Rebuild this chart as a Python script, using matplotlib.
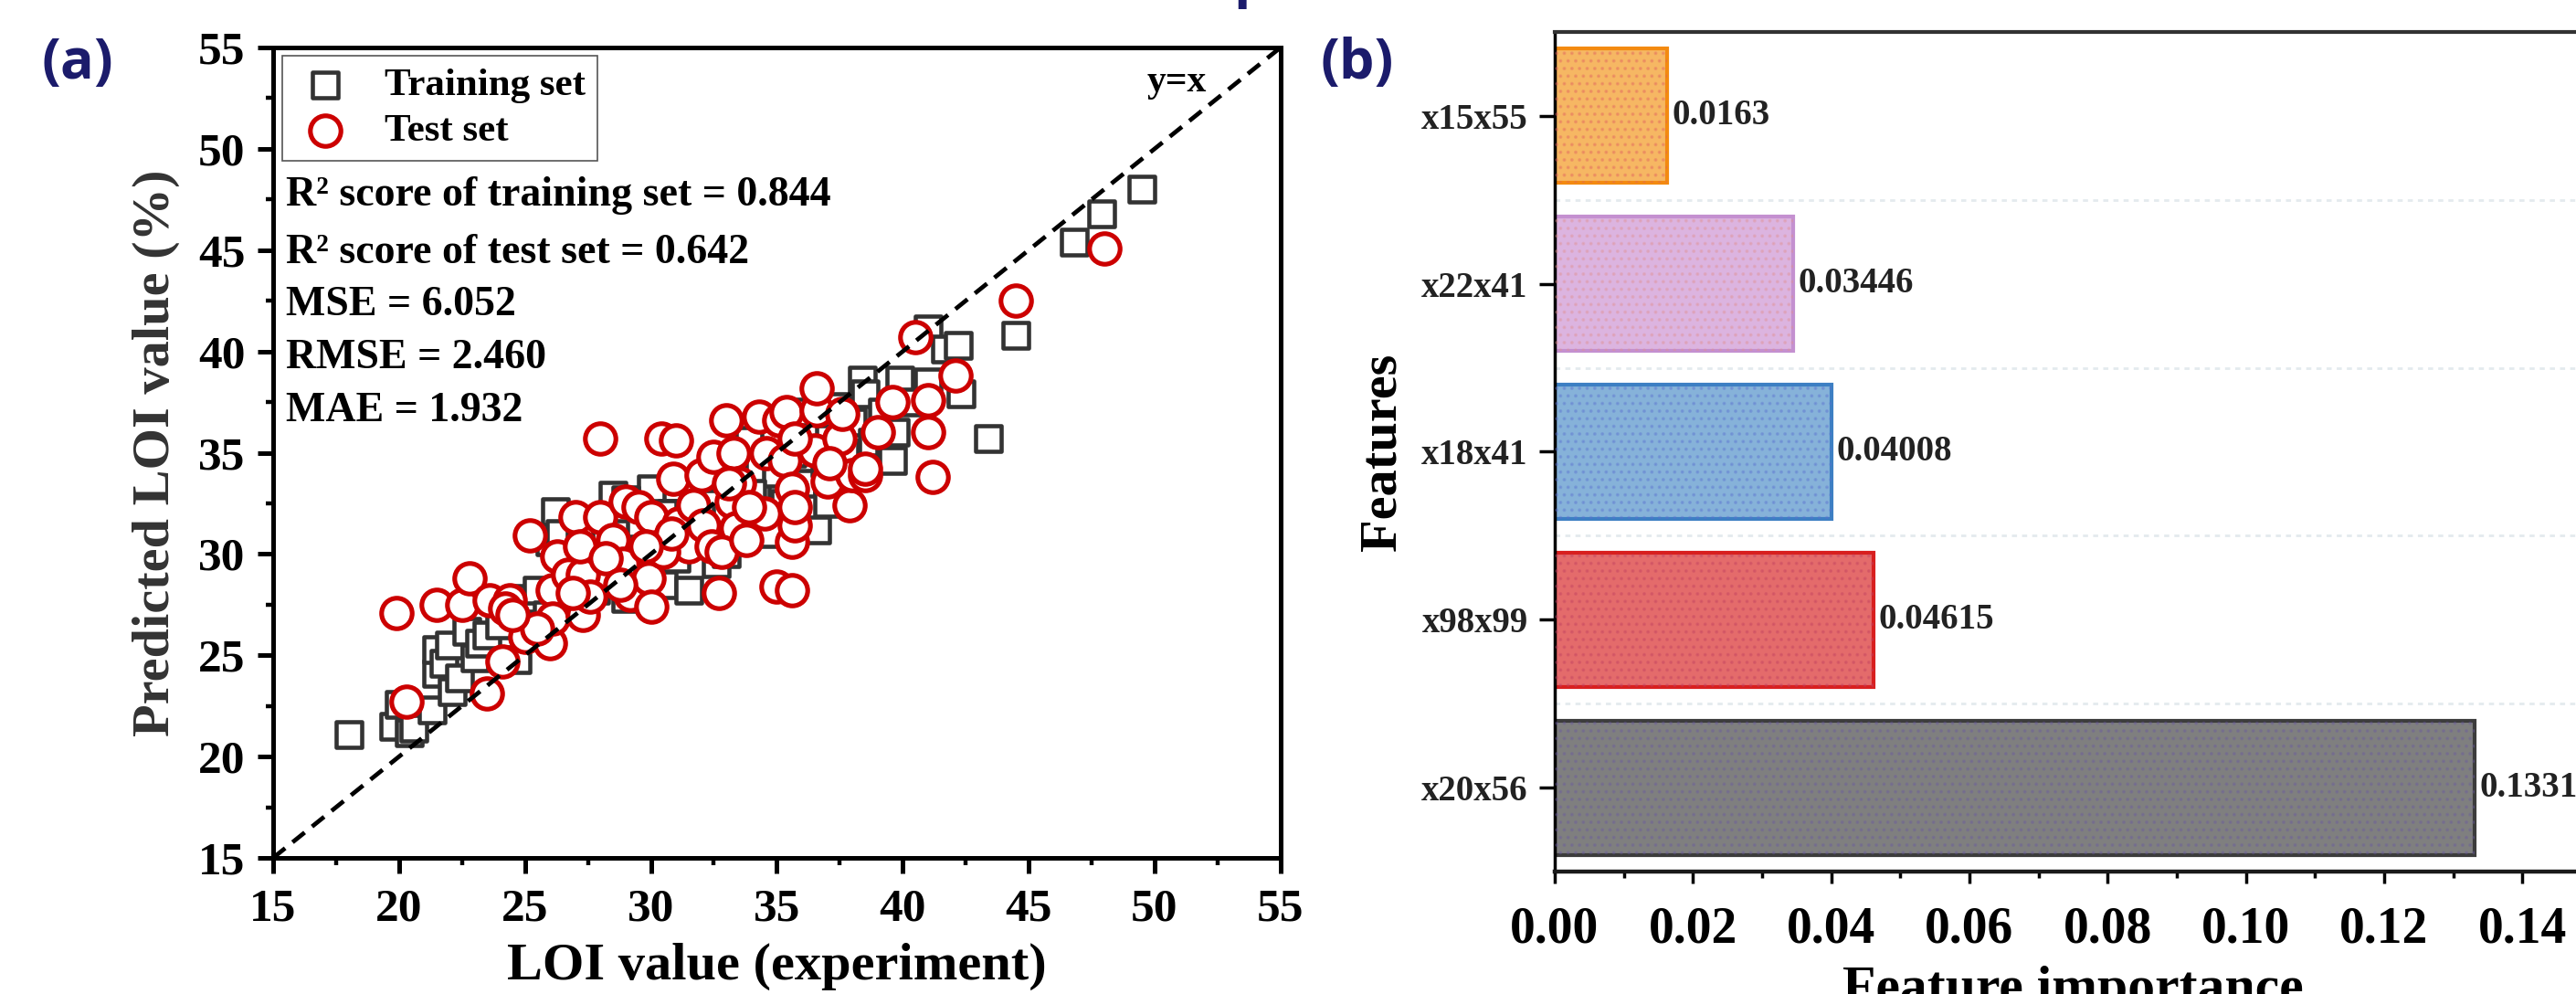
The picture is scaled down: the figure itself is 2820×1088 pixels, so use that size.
import matplotlib
matplotlib.use('Agg')
import matplotlib.pyplot as plt
from matplotlib.ticker import MultipleLocator, FormatStrFormatter

plt.rcParams['font.family'] = ['Liberation Serif', 'DejaVu Serif']
plt.rcParams['font.weight'] = 'bold'
plt.rcParams['hatch.linewidth'] = 1.6

# ---------------- data: panel (a) ----------------
train_x = [18.0, 19.8, 20.4, 20.0, 20.6, 21.3, 21.5, 21.5, 21.8, 22.1, 22.4, 22.0, 22.7, 23.0,
           23.2, 23.5, 24.0, 24.7, 24.5, 25.2, 25.0, 25.5, 25.9, 26.0, 26.2, 26.4, 26.6, 27.0,
           27.4, 27.8, 28.0, 28.5, 28.8, 29.0, 29.3, 29.6, 30.0, 30.2, 30.5, 30.8, 31.0, 31.3,
           31.5, 31.7, 32.0, 32.3, 32.6, 33.0, 33.3, 33.6, 33.9, 34.2, 34.5, 34.8, 35.0, 35.3,
           35.6, 36.0, 36.3, 36.6, 36.9, 37.1, 37.4, 37.7, 38.0, 38.4, 38.5, 38.8, 39.2, 39.5,
           39.6, 39.7, 39.9, 40.3, 41.0, 41.0, 41.7, 42.2, 42.3, 43.4, 44.5, 46.8, 47.9, 49.5,
           27.2, 29.0, 30.5, 32.5, 34.0, 36.0, 37.0, 33.0, 31.0, 28.3]
train_y = [21.1, 21.5, 21.2, 22.6, 21.4, 22.3, 24.1, 25.3, 24.6, 23.2, 23.9, 25.5, 26.2, 24.9,
           25.6, 26.0, 26.5, 24.8, 27.5, 26.0, 27.8, 28.2, 27.0, 30.6, 32.1, 31.0, 28.5, 27.5,
           29.5, 28.2, 30.5, 32.9, 31.0, 27.8, 29.6, 31.5, 33.2, 30.0, 28.5, 32.0, 29.8, 31.2,
           28.2, 33.5, 30.8, 32.5, 29.5, 31.8, 34.0, 31.0, 35.6, 32.8, 31.5, 31.0, 34.0, 32.5,
           35.0, 33.5, 36.0, 31.2, 34.5, 35.7, 37.3, 35.0, 36.5, 38.6, 37.9, 35.5, 37.0, 34.8,
           34.6, 36.0, 38.6, 37.5, 41.1, 38.5, 40.1, 40.3, 37.9, 35.7, 40.8, 45.4, 46.8, 48.0,
           31.5, 32.7, 32.0, 34.0, 33.0, 37.0, 32.5, 30.0, 31.0, 29.0]

test_x = [19.9, 20.3, 21.5, 22.5, 22.8, 23.5, 23.6, 24.1, 24.4, 24.2, 25.0, 25.2, 26.0, 26.1,
          26.1, 26.3, 26.7, 27.0, 27.3, 27.3, 27.6, 28.0, 28.0, 28.5, 28.9, 29.0, 29.2, 29.5,
          29.9, 30.0, 30.0, 30.4, 31.0, 30.9, 31.1, 31.5, 31.7, 32.0, 32.1, 32.4, 32.5, 32.7,
          33.0, 33.2, 33.3, 33.4, 33.5, 34.3, 34.5, 34.6, 35.0, 35.1, 35.3, 35.4, 35.6, 35.6,
          35.6, 35.7, 35.7, 36.5, 36.6, 36.6, 37.0, 37.5, 37.6, 37.9, 38.0, 38.5, 39.0, 39.6,
          40.5, 41.0, 41.0, 41.2, 42.1, 44.5, 48.0, 27.2, 28.2, 30.5, 30.8, 32.8, 33.8, 33.9,
          33.1, 35.7, 37.1, 38.5, 29.8, 28.8, 26.9, 25.5, 24.5]
test_y = [27.1, 22.7, 27.5, 27.5, 28.8, 23.1, 27.7, 24.7, 27.7, 27.3, 25.9, 30.9, 25.6, 28.2,
          26.8, 29.9, 29.0, 31.8, 29.0, 27.0, 27.9, 35.7, 31.8, 30.7, 29.5, 32.6, 28.0, 32.3,
          28.8, 27.4, 31.8, 35.7, 35.6, 33.7, 31.5, 30.4, 32.4, 33.9, 31.4, 30.4, 34.8, 28.1,
          36.6, 32.6, 35.0, 31.3, 33.5, 36.8, 32.0, 35.0, 28.4, 36.6, 34.6, 37.0, 28.2, 33.2,
          30.6, 31.4, 32.3, 35.1, 37.1, 38.2, 33.6, 35.7, 36.9, 32.4, 33.9, 33.9, 36.0, 37.5,
          40.7, 36.0, 37.6, 33.8, 38.8, 42.5, 45.1, 30.4, 29.8, 30.1, 31.0, 30.1, 30.7, 32.3,
          33.5, 35.7, 34.5, 34.2, 30.4, 28.5, 28.1, 26.3, 27.0]

axis_limits = [15, 55]
stats_lines = ["R\u00b2 score of training set = 0.844",
               "R\u00b2 score of test set = 0.642",
               "MSE = 6.052",
               "RMSE = 2.460",
               "MAE = 1.932"]

# ---------------- data: panel (b) ----------------
features = ["x20x56", "x98x99", "x18x41", "x22x41", "x15x55"]
importance = [0.1331, 0.04615, 0.04008, 0.03446, 0.0163]
importance_labels = ["0.1331", "0.04615", "0.04008", "0.03446", "0.0163"]
bar_face = ["#7f7f7f", "#e46b6b", "#86b2d9", "#dcb4e0", "#f6b763"]
bar_edge = ["#3c3c3c", "#d81f1f", "#3d7fc3", "#c490d0", "#f38a10"]
bar_speckle = ["#6a5aa0", "#c04060", "#5a70d0", "#e09090", "#e06060"]

fig = plt.figure(figsize=(28.2, 10.88), dpi=100)

# ================= panel (a) =================
ax1 = fig.add_axes([0.1060, 0.1369, 0.3911, 0.8153])
ax1.scatter(train_x, train_y, marker='s', s=390, facecolors='white',
            edgecolors='#333333', linewidths=3.3, zorder=3, label='Training set')
ax1.scatter(test_x, test_y, marker='o', s=580, facecolors='white',
            edgecolors='#cc0000', linewidths=3.7, zorder=4, label='Test set')
ax1.plot(axis_limits, axis_limits, color='black', lw=3.4, dashes=(3.6, 2.2), zorder=5)
ax1.set_xlim(axis_limits)
ax1.set_ylim(axis_limits)
ax1.xaxis.set_major_locator(MultipleLocator(5))
ax1.yaxis.set_major_locator(MultipleLocator(5))
ax1.xaxis.set_minor_locator(MultipleLocator(2.5))
ax1.yaxis.set_minor_locator(MultipleLocator(2.5))
ax1.tick_params(which='major', direction='out', length=12, width=3.6,
                labelsize=37, color='black')
ax1.tick_params(axis='x', which='major', pad=12)
ax1.tick_params(axis='y', which='major', pad=10)
ax1.tick_params(which='minor', direction='out', length=6, width=3.2)
for lab in ax1.get_xticklabels() + ax1.get_yticklabels():
    lab.set_fontweight('bold')
for sp in ax1.spines.values():
    sp.set_linewidth(3.6)
    sp.set_color('black')
ax1.set_xlabel("LOI value (experiment)", fontsize=42, fontweight='bold', labelpad=10)
ax1.set_ylabel("Predicted LOI value (%)", fontsize=42, fontweight='bold',
               labelpad=14, color='#333333')

leg = ax1.legend(loc='upper left', bbox_to_anchor=(0.009, 0.99), borderaxespad=0,
                 frameon=True, fancybox=False, edgecolor='#555555',
                 framealpha=1, scatterpoints=1, borderpad=0.3, labelspacing=0.25,
                 handlelength=1.6, handletextpad=0.7, prop={'weight': 'bold', 'size': 31})
leg.get_frame().set_linewidth(1.2)

stat_y = [0.805, 0.734, 0.670, 0.604, 0.539]
for txt, yy in zip(stats_lines, stat_y):
    ax1.text(0.0127, yy, txt, transform=ax1.transAxes, fontsize=33,
             fontweight='bold', ha='left', va='baseline')
ax1.text(0.927, 0.946, "y=x", transform=ax1.transAxes, fontsize=30,
         fontweight='bold', ha='right', va='baseline')

# ================= panel (b) =================
ax2 = fig.add_axes([0.6035, 0.1232, 0.4025, 0.8447])
pos = list(range(len(features)))
ax2.barh(pos, importance, height=0.8, color=bar_face, edgecolor=bar_edge,
         linewidth=3, zorder=2)
ax2.barh(pos, importance, height=0.8, facecolor='none', edgecolor=bar_speckle,
         hatch='..', linewidth=0, alpha=0.35, zorder=3)
for p in pos[:-1]:
    ax2.axhline(p + 0.5, color='#e4eaee', lw=2, ls=(0, (2, 2)), zorder=1)
for p, v, lab in zip(pos, importance, importance_labels):
    ax2.annotate(lab, xy=(v, p), xytext=(4, 0), textcoords='offset points',
                 ha='left', va='center', fontsize=28, fontweight='bold', color='#222222')
ax2.set_ylim(-0.5, len(features) - 0.5)
ax2.set_xlim(0, 0.15)
ax2.set_yticks(pos)
ax2.set_yticklabels(features, fontsize=28, fontweight='bold', color='#222222')
ax2.xaxis.set_major_locator(MultipleLocator(0.02))
ax2.xaxis.set_minor_locator(MultipleLocator(0.01))
ax2.xaxis.set_major_formatter(FormatStrFormatter('%.2f'))
ax2.tick_params(axis='y', which='major', direction='out', length=12, width=2.5, pad=9)
ax2.tick_params(axis='x', which='major', direction='out', length=9, width=2.5,
                labelsize=40, pad=18)
ax2.tick_params(axis='x', which='minor', direction='out', length=5, width=2.5)
for lab in ax2.get_xticklabels():
    lab.set_fontweight('bold')
ax2.spines['left'].set_linewidth(2.5)
ax2.spines['left'].set_color('black')
ax2.spines['bottom'].set_linewidth(3.2)
ax2.spines['bottom'].set_color('#1a1a1a')
ax2.spines['top'].set_linewidth(3)
ax2.spines['top'].set_color('#333333')
ax2.spines['right'].set_linewidth(3)
ax2.set_xlabel("Feature importance", fontsize=43, fontweight='bold', labelpad=10)
ax2.set_ylabel("Features", fontsize=42, fontweight='bold', labelpad=12)

# ---------------- panel tags ----------------
tag_font = dict(family=['Open Sans', 'DejaVu Sans'], fontsize=44, fontweight='bold',
                color='#1b1b6b')
fig.text(45 / 2820, 1 - 40 / 1088, "(a)", ha='left', va='top', **tag_font)
fig.text(1446 / 2820, 1 - 40 / 1088, "(b)", ha='left', va='top', **tag_font)
fig.text(1350 / 2820, 1 + 5 / 1088, "p", ha='left', va='baseline', **tag_font)

fig.savefig('out.png', dpi=100)
